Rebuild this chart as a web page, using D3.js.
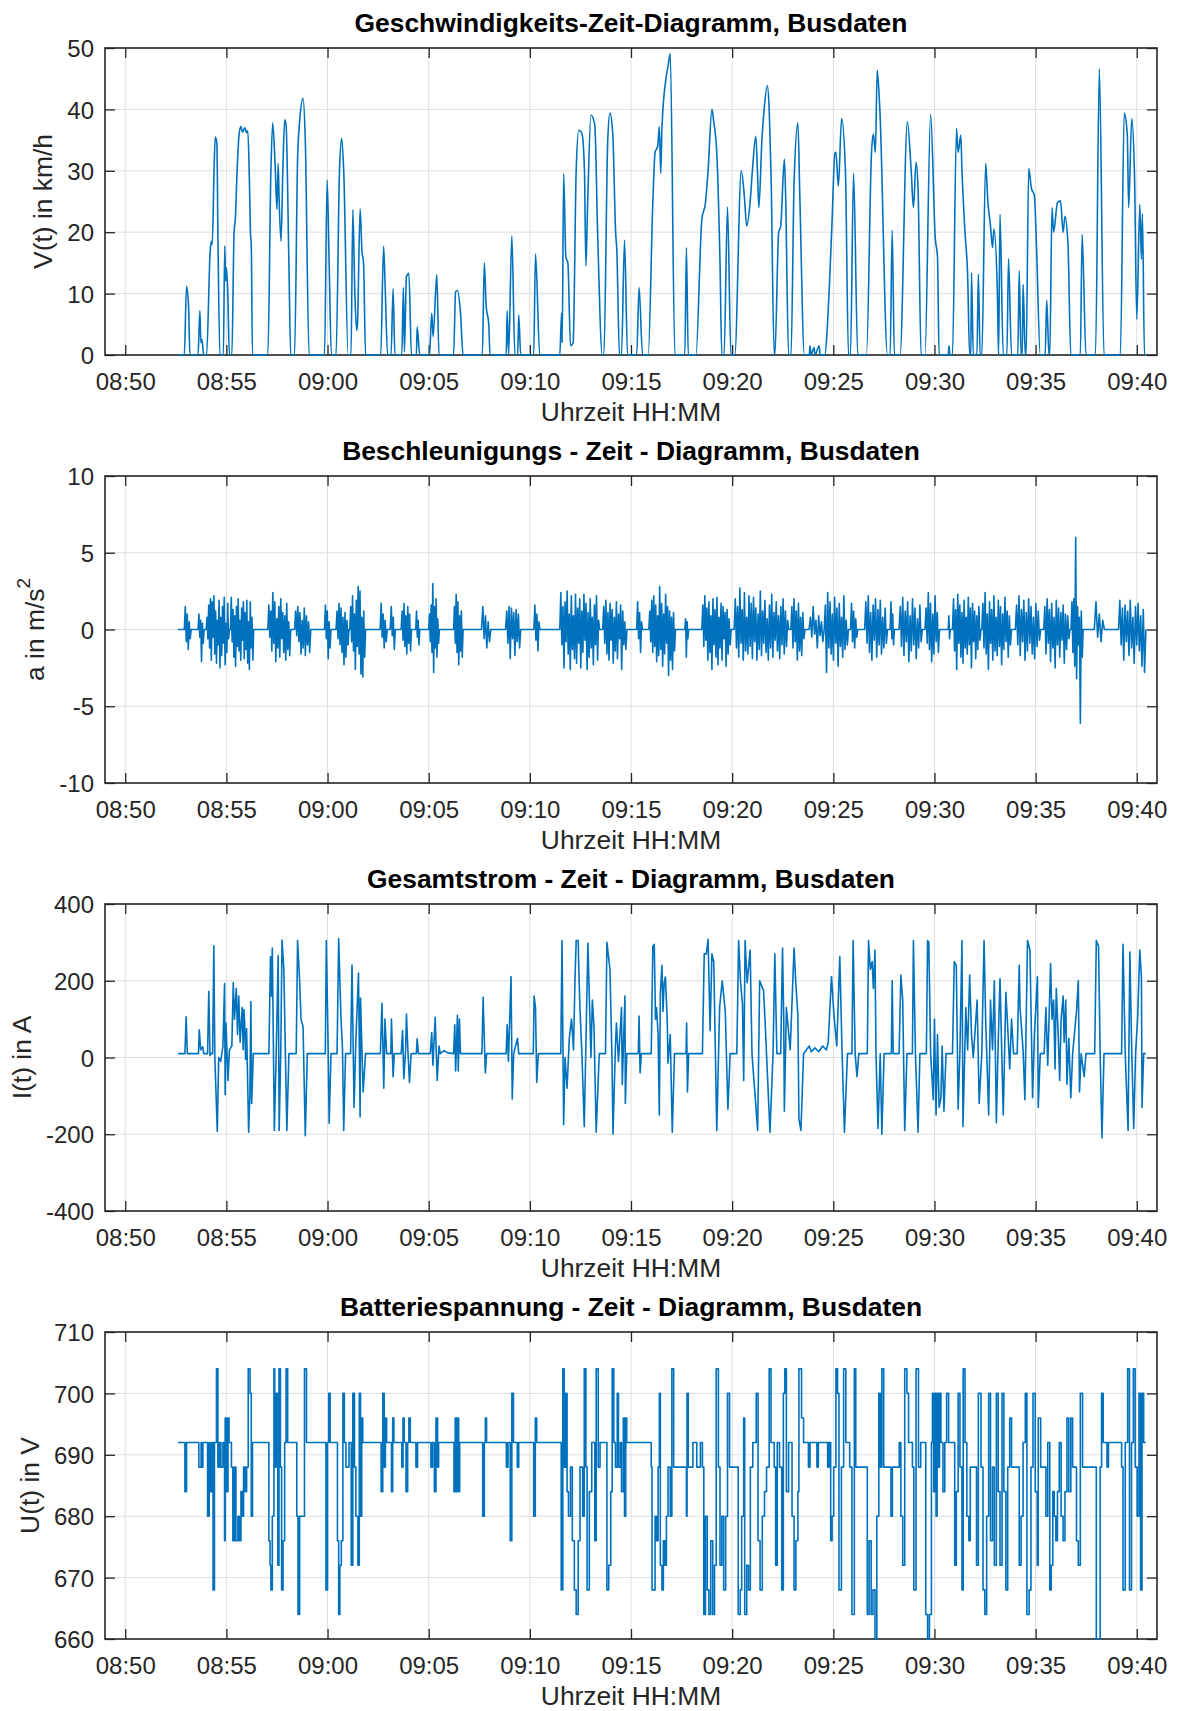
<!DOCTYPE html>
<html>
<head>
<meta charset="utf-8">
<script src="https://cdn.jsdelivr.net/npm/d3@7"></script>
<style>
  html, body { margin: 0; padding: 0; background: #ffffff; }
  svg { display: block; font-family: "Liberation Sans", Arial, Helvetica, sans-serif; }
</style>
</head>
<body>
<svg id="chart" width="1178" height="1711"></svg>
<script>
// ---------------------------------------------------------------
// Bus log, 08:49 - 09:41. Every sample time is given in minutes
// after 08:50:00.
// ---------------------------------------------------------------
const clockOrigin = [8, 50];
const timeDomainMin = [-1, 51];
const timeTickMin = [0, 5, 10, 15, 20, 25, 30, 35, 40, 45, 50];

// Speed V(t) in km/h : [minute, value]
const speedSamples = [
  [2.61,0],[2.92,0],[3.03,11.2],[3.13,8],[3.20,0],[3.60,0],[3.69,7.2],[3.74,2],[3.79,2.5],[3.88,0],
  [4.02,0],[4.20,17],[4.26,18.5],[4.30,18],[4.39,30],[4.45,35.5],[4.53,34.5],[4.58,20],[4.68,0],
  [4.85,0],[4.92,17.8],[4.96,12],[5.00,14.2],[5.06,11],[5.15,0],[5.27,0],[5.38,20],[5.44,22],
  [5.53,30],[5.63,36],[5.72,37.2],[5.80,36.3],[5.91,37],[6.00,36.2],[6.06,36.5],[6.14,28],[6.19,20],
  [6.23,18],[6.29,0],[7.05,0],[7.20,30],[7.29,37.8],[7.42,30],[7.50,23.7],[7.56,31.2],[7.61,25],
  [7.70,18.5],[7.79,30],[7.88,38.3],[7.95,37.5],[8.09,15],[8.18,0],[8.37,0],[8.52,32],[8.62,38],
  [8.79,41.8],[8.90,35],[9.09,0],[9.85,0],[9.98,28.5],[10.08,15],[10.19,0],[10.42,0],[10.59,30],
  [10.70,35.3],[10.80,30],[11.02,0],[11.16,0],[11.25,23.7],[11.35,10],[11.44,4],[11.48,5],[11.61,23.8],
  [11.70,17],[11.78,15],[11.88,0],[12.63,0],[12.77,17.7],[12.84,12],[12.97,0],[13.14,0],[13.24,10.8],
  [13.33,0],[13.67,0],[13.75,11],[13.80,0.5],[13.90,12.8],[14.02,13.3],[14.15,0],[14.39,0],[14.43,4.6],
  [14.56,0],[15.04,0],[15.15,6.8],[15.22,3],[15.40,13.1],[15.51,0],[16.23,0],[16.33,10.3],[16.42,10.5],
  [16.57,7],[16.70,0],[17.65,0],[17.75,15],[17.84,8],[17.97,5],[18.03,0],[18.83,0],[18.88,7.2],
  [18.95,0],[19.11,19.4],[19.26,0],[19.40,0],[19.45,6.5],[19.55,0],[20.19,0],[20.28,16.5],[20.49,0],
  [21.48,0],[21.57,6.8],[21.60,2],[21.67,29.5],[21.78,16],[21.88,15],[22.01,1.5],[22.14,2],[22.29,30],
  [22.42,36.6],[22.58,36],[22.70,30],[22.77,14.5],[22.86,25],[23.02,39.1],[23.21,37.5],[23.35,20],
  [23.58,0],[23.66,0],[23.85,35],[23.96,39.4],[24.10,36],[24.24,20],[24.30,17],[24.43,0],[24.53,0],
  [24.68,18.7],[24.83,0],[25.28,0],[25.40,11],[25.57,0],[25.85,0],[26.08,25],[26.19,33],[26.32,34],
  [26.40,37.2],[26.47,29.6],[26.53,37],[26.74,45.3],[26.83,47],[26.94,49.1],[27.17,0],[27.66,0],
  [27.74,17.5],[27.83,0],[28.21,0],[28.50,22],[28.68,24.8],[28.81,30],[29.00,40],[29.09,38],
  [29.24,32.9],[29.40,15],[29.49,0],[29.60,0],[29.77,24.1],[29.94,0],[30.13,0],[30.45,30],[30.60,26],
  [30.72,21],[30.89,25],[31.00,30],[31.17,35.6],[31.25,30],[31.32,24],[31.47,35],[31.58,40],
  [31.74,43.9],[31.83,40],[31.92,30],[32.08,0],[32.11,0],[32.30,20],[32.40,21],[32.58,31.9],
  [32.64,26.4],[32.79,0],[32.91,0],[33.06,28],[33.25,37.8],[33.34,26.5],[33.57,0],[33.81,0],
  [33.85,1.5],[33.90,0],[34.05,1.2],[34.10,0],[34.30,1.5],[34.35,0],[34.57,0],[34.79,10],[34.94,22],
  [35.08,32.9],[35.13,33],[35.25,27.5],[35.41,38.5],[35.60,30],[35.75,0],[35.85,0],[36.00,29.6],
  [36.21,0],[36.64,0],[36.89,33.1],[36.98,36],[37.08,33],[37.17,46.4],[37.30,40],[37.68,0],[37.81,0],
  [37.91,20.3],[38.02,0],[38.30,0],[38.66,38],[38.85,30],[38.96,24],[39.09,31.4],[39.19,27],[39.34,0],
  [39.53,0],[39.81,39.2],[40.04,19],[40.15,16],[40.23,0],[40.68,0],[40.72,1.5],[40.76,0],[40.89,0],
  [41.09,36.9],[41.17,33],[41.30,35.8],[41.36,30],[41.51,20],[41.64,13],[41.74,0],[41.80,0],
  [41.83,13.4],[41.92,0],[42.10,0],[42.17,13.2],[42.26,0],[42.34,0],[42.53,31.2],[42.64,25],
  [42.77,21],[42.87,17.5],[42.94,20.5],[43.11,10],[43.17,0],[43.24,22.9],[43.40,0],[43.58,0],
  [43.66,15.7],[43.81,0],[44.12,0],[44.19,13.7],[44.28,0],[44.34,0],[44.38,11.5],[44.49,0],[44.53,0],
  [44.66,30.4],[44.79,27.2],[44.94,26],[45.04,18],[45.23,0],[45.47,0],[45.55,8.9],[45.66,0],[45.70,0],
  [45.81,24],[45.89,20],[46.08,24.8],[46.23,25.1],[46.36,20],[46.45,22.6],[46.60,18],[46.74,0],
  [47.21,0],[47.30,19.6],[47.49,0],[47.96,0],[48.15,46.6],[48.38,0],[49.19,0],[49.38,39.4],
  [49.53,36],[49.60,24],[49.75,38.5],[49.89,29],[50.00,5.8],[50.15,24.5],[50.23,15.6],[50.28,23],
  [50.38,0],[50.45,0]
];

// Acceleration a(t) in m/s^2 : driving phases [from, to, readings spread evenly in between]
const accelStart = 2.61;
const accelEnd = 50.45;
const accelBursts = [
  [2.92, 3.26, [0,1.5,-0.8,1.0,-1.3,0.5,-0.6,0]],
  [3.60, 3.90, [0,1.0,-0.5,0.6,-2.1,0.4,-0.9,0]],
  [4.00, 5.15, [0,0.8,-0.6,1.6,-1.2,2.0,-2.0,1.8,-0.5,2.2,-1.6,1.2,-2.2,0.6,-1.0,1.9,-2.5,0.8,-1.7,1.5,-0.9,2.1,-2.3,0.4,-1.5,1.7,-0.6,0]],
  [5.20, 6.35, [0,2.1,-0.8,1.3,-1.8,0.9,-2.4,1.5,-1.1,2.0,-1.4,0.6,-2.0,1.4,-0.7,1.8,-1.9,1.1,-1.3,1.9,-2.2,0.5,-2.6,1.8,-1.2,0.8,-2.0,0]],
  [7.05, 8.18, [0,1.6,-0.5,1.2,-1.4,2.4,-0.9,1.8,-2.1,0.7,-1.2,1.5,-1.8,2.0,-0.6,1.1,-1.5,0.9,-2.0,1.7,-1.3,0.5,-1.7,0]],
  [8.37, 9.17, [0,1.2,-0.4,1.5,-0.8,1.1,-1.6,0.6,-1.2,1.4,-1.7,0.9,-1.0,0.5,-1.5,0]],
  [9.85, 10.17, [0,1.6,-0.6,1.2,-1.9,0.5,-1.2,0]],
  [10.42, 11.06, [0,1.2,-0.6,1.7,-1.0,1.4,-1.5,0.8,-2.3,1.1,-1.8,0.6,-1.0,0]],
  [11.10, 11.88, [0,1.5,-0.8,2.2,-1.4,1.0,-2.6,1.9,-1.1,2.8,-1.6,2.5,-2.9,0.8,-3.1,1.2,-1.8,0]],
  [12.60, 12.95, [0,1.7,-0.5,1.0,-1.2,0.6,-0.8,0]],
  [13.10, 13.35, [0,1.5,-0.4,0.8,-1.3,0]],
  [13.64, 14.15, [0,1.2,-0.7,1.7,-1.1,0.9,-1.6,1.5,-0.9,1.0,-1.4,0]],
  [14.36, 14.56, [0,1.2,-0.5,0.6,-1.0,0]],
  [15.00, 15.53, [0,1.0,-0.8,1.6,-1.5,3.0,-2.8,1.5,-1.2,2.0,-1.8,0.7,-0.9,0]],
  [16.23, 16.70, [0,1.5,-0.9,2.3,-1.5,1.8,-2.3,0.9,-1.4,1.2,-1.8,0]],
  [17.61, 18.07, [0,1.5,-0.6,0.9,-1.2,0.5,-0.8,0]],
  [18.80, 19.55, [0,1.2,-0.9,1.5,-1.9,1.4,-0.6,1.1,-1.7,1.3,-0.8,1.0,-1.2,0]],
  [20.20, 20.50, [0,1.6,-0.7,1.0,-1.4,0.5,0]],
  [21.48, 23.45, [0,2.4,-1.0,1.5,-2.5,1.8,-0.8,2.5,-1.6,1.0,-2.6,2.2,-1.3,0.9,-1.9,2.3,-2.2,1.4,-0.9,2.0,-2.5,1.2,-1.5,2.3,-0.7,1.7,-2.6,1.1,-1.8,2.0,-1.2,0.8,-2.3,1.6,-1.0,2.2,-2.0,0.6,0]],
  [23.60, 24.80, [0,1.5,-0.9,1.9,-1.6,1.1,-2.0,1.7,-0.7,1.3,-2.2,0.8,-1.4,1.8,-1.9,1.0,-0.6,1.6,-2.6,1.2,-1.0,0.5,-1.3,0]],
  [25.28, 25.57, [0,1.8,-0.6,1.1,-1.5,0.5,0]],
  [25.88, 27.20, [0,1.2,-0.8,1.9,-1.5,2.2,-1.1,1.6,-2.1,0.9,-1.7,2.8,-1.3,1.7,-2.4,1.0,-1.6,2.3,-0.9,1.5,-3.0,1.2,-2.0,0.8,-2.6,1.1,-1.4,0]],
  [27.66, 27.85, [0,0.7,-1.8,0.5,-0.6,0]],
  [28.50, 29.95, [0,1.6,-1.1,2.2,-0.7,1.4,-2.0,1.8,-1.5,0.9,-2.6,2.0,-1.0,1.3,-1.8,2.1,-2.3,0.8,-1.2,1.7,-2.0,1.5,-0.6,1.1,-2.4,1.3,-1.6,0.7,-1.0,0]],
  [30.10, 32.80, [0,2.0,-1.2,1.5,-1.8,2.7,-0.9,1.3,-2.0,2.4,-1.4,0.8,-1.6,2.2,-1.1,1.7,-1.9,2.1,-0.8,1.4,-2.0,1.0,-1.3,2.5,-1.7,1.2,-0.9,1.9,-1.5,0.7,-2.0,1.6,-1.2,2.3,-1.8,1.1,-0.7,1.8,-1.4,0.9,-1.9,1.5,-1.0,2.0,-1.6,1.2,-1.1,0.6,0]],
  [32.90, 33.60, [0,1.5,-1.2,2.0,-0.8,1.2,-2.0,1.7,-1.4,0.8,-1.7,1.1,-0.6,0]],
  [33.80, 34.55, [0,0.8,-0.5,1.5,-0.3,0.6,-1.2,0.9,-0.4,0.5,-0.8,0]],
  [34.55, 35.75, [0,1.6,-2.8,2.4,-1.2,1.8,-1.6,1.0,-2.0,2.1,-0.9,1.4,-2.4,1.7,-1.1,0.8,-1.8,2.2,-1.3,0.6,-1.0,0]],
  [35.85, 36.21, [0,1.7,-0.8,1.2,-1.2,0.7,-0.5,0]],
  [36.55, 37.68, [0,1.8,-0.9,2.2,-1.5,1.1,-2.0,1.6,-0.7,2.0,-1.8,1.3,-1.0,1.9,-1.6,0.8,-1.2,1.4,-0.9,0]],
  [37.81, 38.02, [0,1.8,-0.6,1.0,-1.0,0]],
  [38.25, 39.40, [0,1.5,-1.1,2.1,-1.7,1.2,-0.8,1.8,-2.1,0.9,-1.4,2.0,-1.0,1.4,-1.9,0.7,-1.2,1.6,-0.8,0]],
  [39.53, 40.25, [0,1.4,-0.9,2.4,-1.3,1.7,-2.1,1.0,-1.6,2.2,-0.8,1.1,-1.5,0]],
  [40.68, 40.78, [0,0.9,-0.6,0]],
  [40.89, 42.30, [0,2.0,-1.4,1.3,-2.6,2.3,-0.9,1.6,-1.8,1.1,-2.2,1.9,-1.2,0.8,-1.6,2.1,-1.0,1.4,-2.5,1.7,-0.8,1.2,-1.9,0.9,-1.3,1.5,-0.7,0]],
  [42.34, 43.81, [0,1.7,-1.2,2.4,-1.6,1.0,-2.6,1.8,-0.9,1.3,-2.0,2.2,-1.4,0.8,-1.7,1.9,-1.1,1.5,-2.3,1.0,-1.3,2.1,-0.8,1.2,-1.8,0.9,-1.0,0]],
  [44.00, 45.25, [0,1.6,-1.0,2.2,-1.7,1.3,-0.8,1.9,-2.0,1.1,-1.4,2.0,-0.9,1.5,-1.6,0.8,-1.9,1.7,-1.1,1.2,-0.7,0]],
  [45.40, 46.70, [0,1.5,-1.6,2.0,-0.9,1.3,-2.1,1.7,-1.2,0.8,-2.5,1.9,-1.0,1.4,-1.8,1.1,-0.7,1.6,-2.2,1.0,-1.3,0.9,-0.6,0]],
  [46.75, 47.35, [0,1.8,-1.5,2.0,-2.4,6.0,-3.2,1.5,-1.0,0.8,-6.1,1.2,-1.8,0]],
  [47.90, 48.40, [0,1.8,-0.5,1.0,-0.8,0.6,0]],
  [49.10, 50.45, [0,1.9,-1.0,1.4,-2.0,1.6,-0.8,1.2,-1.7,1.9,-1.2,0.8,-2.2,1.5,-1.0,1.7,-1.4,0.9,-2.4,1.3,-2.8,0]]
];

// Total current I(t) in A : [minute, value]
const currentSamples = [
  [2.61,10],[2.95,10],[3.01,106],[3.07,10],[3.62,10],[3.66,72],[3.73,20],[3.83,28],[3.88,10],
  [4.07,10],[4.13,172],[4.19,5],[4.24,10],[4.32,10],[4.38,291],[4.43,0],[4.55,-193],[4.62,0],
  [4.72,-10],[4.83,30],[4.91,193],[4.94,-97],[4.98,90],[5.08,-60],[5.15,20],[5.27,30],[5.34,195],
  [5.40,100],[5.49,180],[5.55,60],[5.61,160],[5.68,40],[5.78,130],[5.83,20],[5.87,125],[5.91,80],
  [5.95,-5],[6.00,75],[6.10,-195],[6.16,-100],[6.21,146],[6.25,-120],[6.33,10],[7.10,10],[7.18,263],
  [7.23,160],[7.27,285],[7.37,-190],[7.46,5],[7.56,265],[7.61,-190],[7.69,20],[7.75,306],[7.84,230],
  [7.92,0],[7.99,-190],[8.09,10],[8.45,10],[8.52,305],[8.62,200],[8.69,100],[8.79,80],[8.90,-204],
  [9.00,10],[9.89,10],[9.94,305],[10.02,60],[10.08,-171],[10.17,10],[10.47,10],[10.55,310],
  [10.61,200],[10.66,110],[10.74,20],[10.80,-190],[10.89,10],[11.14,10],[11.21,241],[11.31,-130],
  [11.40,45],[11.53,220],[11.61,-155],[11.63,155],[11.70,20],[11.76,-90],[11.88,10],[12.61,10],
  [12.69,141],[12.78,-80],[12.84,100],[12.92,10],[13.13,10],[13.16,100],[13.24,-50],[13.30,10],
  [13.64,10],[13.71,70],[13.77,-55],[13.86,20],[13.90,113],[13.98,10],[14.05,-65],[14.13,10],
  [14.39,10],[14.43,49],[14.49,10],[15.08,10],[15.15,65],[15.21,-20],[15.32,105],[15.42,-60],
  [15.51,30],[15.57,10],[15.76,18],[15.95,12],[16.23,10],[16.29,85],[16.33,-35],[16.42,110],
  [16.46,-35],[16.52,100],[16.57,10],[17.63,10],[17.69,157],[17.77,10],[17.80,-40],[17.86,10],
  [18.83,10],[18.88,85],[18.94,-10],[19.07,211],[19.13,-108],[19.20,10],[19.39,50],[19.45,10],
  [20.17,10],[20.21,160],[20.28,130],[20.34,-65],[20.42,10],[21.53,10],[21.59,305],[21.67,-175],
  [21.74,0],[21.84,-80],[21.95,50],[22.06,100],[22.16,20],[22.23,200],[22.29,305],[22.39,305],
  [22.42,230],[22.48,125],[22.58,0],[22.69,-180],[22.87,298],[23.02,0],[23.09,150],[23.17,80],
  [23.28,-195],[23.43,10],[23.74,10],[23.81,300],[23.96,230],[24.06,0],[24.11,-200],[24.23,30],
  [24.28,90],[24.38,-10],[24.53,130],[24.57,-70],[24.70,160],[24.72,-120],[24.79,10],[25.36,10],
  [25.40,108],[25.45,-40],[25.51,10],[26.00,10],[26.08,290],[26.15,295],[26.21,100],[26.26,130],
  [26.34,60],[26.40,-150],[26.45,167],[26.53,240],[26.58,120],[26.64,195],[26.70,210],[26.79,100],
  [26.83,-15],[26.94,60],[27.04,-195],[27.15,10],[27.72,10],[27.75,90],[27.79,-90],[27.85,10],
  [28.53,10],[28.62,270],[28.72,270],[28.81,308],[28.91,70],[29.00,270],[29.09,250],[29.24,-190],
  [29.38,130],[29.51,200],[29.66,120],[29.79,-135],[29.90,10],[30.23,10],[30.32,305],[30.41,200],
  [30.51,140],[30.57,-60],[30.64,305],[30.74,195],[30.89,280],[30.98,10],[31.26,-190],[31.36,200],
  [31.55,175],[31.64,80],[31.87,-195],[32.02,10],[32.11,270],[32.21,10],[32.40,10],[32.49,285],
  [32.55,100],[32.58,-140],[32.68,130],[32.87,20],[33.06,285],[33.15,190],[33.25,110],[33.30,-160],
  [33.40,-190],[33.53,10],[33.81,30],[33.91,15],[34.09,25],[34.28,15],[34.47,30],[34.66,20],
  [34.75,40],[34.91,211],[35.04,105],[35.17,30],[35.32,263],[35.43,20],[35.55,-195],[35.70,10],
  [35.92,10],[35.98,305],[36.08,10],[36.17,-50],[36.26,10],[36.68,10],[36.74,305],[36.83,230],
  [36.92,250],[36.98,180],[37.06,280],[37.11,10],[37.21,-185],[37.32,10],[37.40,-200],[37.51,10],
  [37.87,10],[37.91,200],[37.96,10],[38.25,10],[38.34,215],[38.43,150],[38.53,-190],[38.64,10],
  [38.91,10],[38.96,305],[39.06,10],[39.19,-195],[39.28,10],[39.60,10],[39.66,305],[39.72,300],
  [39.81,10],[39.94,-110],[40.00,100],[40.08,-150],[40.15,60],[40.23,-130],[40.32,-105],[40.38,30],
  [40.47,-140],[40.57,10],[40.89,10],[40.98,250],[41.08,240],[41.17,-135],[41.26,20],[41.36,305],
  [41.41,-180],[41.55,130],[41.64,20],[41.74,215],[41.83,60],[41.92,0],[42.11,150],[42.21,-120],
  [42.34,10],[42.45,305],[42.53,100],[42.68,-150],[42.77,150],[42.87,20],[42.96,200],[43.06,-170],
  [43.15,40],[43.24,205],[43.40,-150],[43.53,170],[43.62,80],[43.72,-30],[43.81,100],[43.91,10],
  [44.09,10],[44.19,240],[44.23,130],[44.38,20],[44.47,-110],[44.60,305],[44.72,280],[44.85,-105],
  [44.94,60],[45.09,210],[45.13,-130],[45.23,10],[45.42,10],[45.51,130],[45.60,-20],[45.74,245],
  [45.81,100],[45.89,150],[45.96,-30],[46.02,180],[46.11,70],[46.19,-60],[46.26,100],[46.36,160],
  [46.41,40],[46.49,150],[46.55,-70],[46.64,50],[46.74,-105],[46.83,10],[47.02,120],[47.11,200],
  [47.17,-90],[47.25,10],[47.40,-50],[47.49,10],[47.92,10],[48.00,305],[48.11,290],[48.19,10],
  [48.28,-210],[48.38,10],[49.25,10],[49.32,295],[49.43,10],[49.57,-190],[49.66,275],[49.75,20],
  [49.85,-185],[49.94,10],[50.04,100],[50.15,280],[50.23,210],[50.26,-130],[50.34,10],[50.45,10]
];

// Battery voltage U(t) in V : [minute, value], each value held until the next sample
const voltageSamples = [
  [2.61,692],[2.95,684],[3.03,692],[3.64,688],[3.75,692],[3.79,688],[3.84,692],[4.07,680],[4.15,692],
  [4.20,684],[4.28,692],[4.34,668],[4.41,692],[4.51,704],[4.58,688],[4.66,692],[4.73,688],[4.83,692],
  [4.91,676],[4.94,696],[5.02,684],[5.08,696],[5.13,692],[5.25,688],[5.32,676],[5.40,688],[5.47,676],
  [5.57,680],[5.64,676],[5.72,684],[5.80,680],[5.85,688],[5.93,684],[6.00,688],[6.08,704],[6.17,700],
  [6.23,680],[6.29,692],[7.10,676],[7.16,672],[7.20,668],[7.27,680],[7.35,704],[7.39,688],[7.46,700],
  [7.54,672],[7.60,704],[7.67,688],[7.73,668],[7.80,676],[7.88,692],[7.95,704],[8.03,692],[8.48,680],
  [8.54,664],[8.62,680],[8.77,680],[8.86,704],[8.96,692],[9.92,668],[10.00,692],[10.06,700],
  [10.13,692],[10.49,676],[10.55,664],[10.61,672],[10.68,676],[10.76,700],[10.83,692],[10.91,688],
  [11.06,692],[11.17,672],[11.25,700],[11.33,688],[11.40,680],[11.50,672],[11.57,700],[11.63,680],
  [11.69,696],[11.74,692],[12.65,684],[12.73,700],[12.80,688],[12.86,696],[12.92,692],[13.16,684],
  [13.22,696],[13.28,692],[13.67,688],[13.73,696],[13.79,692],[13.88,684],[13.96,692],[14.02,696],
  [14.09,692],[14.37,688],[14.45,692],[15.11,688],[15.19,692],[15.28,684],[15.36,696],[15.44,688],
  [15.49,692],[16.25,684],[16.31,696],[16.36,684],[16.42,696],[16.48,684],[16.53,692],[17.67,680],
  [17.75,692],[17.80,696],[17.86,692],[18.84,688],[18.92,692],[19.03,676],[19.11,700],[19.19,692],
  [19.38,688],[19.45,692],[20.19,680],[20.27,696],[20.34,692],[21.55,668],[21.63,704],[21.70,688],
  [21.78,700],[21.84,684],[21.91,680],[22.01,688],[22.10,676],[22.20,668],[22.29,664],[22.39,676],
  [22.48,688],[22.61,680],[22.69,704],[22.77,688],[22.83,668],[22.94,684],[23.06,692],[23.21,676],
  [23.28,704],[23.38,688],[23.47,692],[23.81,668],[23.90,672],[24.00,684],[24.07,704],[24.15,692],
  [24.23,688],[24.32,700],[24.38,688],[24.47,692],[24.53,684],[24.62,696],[24.68,680],[24.74,696],
  [24.79,692],[26.00,688],[26.04,668],[26.19,680],[26.26,676],[26.34,688],[26.40,700],[26.45,672],
  [26.53,668],[26.60,676],[26.68,672],[26.75,680],[26.83,688],[26.94,680],[27.02,704],[27.11,688],
  [27.74,680],[27.77,700],[27.83,688],[28.06,692],[28.25,688],[28.43,692],[28.53,688],[28.60,664],
  [28.68,680],[28.77,668],[28.85,664],[28.94,676],[29.04,664],[29.13,672],[29.21,704],[29.32,688],
  [29.40,672],[29.49,680],[29.58,668],[29.68,680],[29.77,700],[29.87,688],[30.30,664],[30.40,668],
  [30.47,680],[30.57,696],[30.62,664],[30.72,672],[30.81,668],[30.90,688],[31.02,692],[31.19,700],
  [31.28,676],[31.38,668],[31.49,680],[31.60,684],[31.70,688],[31.83,704],[31.92,692],[32.08,688],
  [32.15,672],[32.23,692],[32.34,688],[32.45,668],[32.53,700],[32.60,704],[32.68,684],[32.79,692],
  [32.96,680],[33.06,668],[33.15,676],[33.25,684],[33.30,704],[33.43,696],[33.53,692],[33.77,688],
  [33.85,692],[34.19,688],[34.26,692],[34.72,688],[34.79,692],[34.87,676],[34.94,680],[35.02,688],
  [35.13,704],[35.21,700],[35.28,668],[35.40,688],[35.51,704],[35.62,692],[35.81,688],[35.92,664],
  [36.04,704],[36.11,688],[36.68,664],[36.77,676],[36.87,664],[36.96,668],[37.06,660],[37.15,680],
  [37.25,700],[37.32,688],[37.40,704],[37.49,688],[37.85,680],[37.92,688],[38.26,692],[38.34,680],
  [38.43,672],[38.53,704],[38.64,700],[38.72,692],[38.91,688],[38.98,668],[39.09,704],[39.21,688],
  [39.32,692],[39.57,664],[39.66,660],[39.75,664],[39.85,692],[39.90,700],[39.96,684],[40.02,700],
  [40.08,680],[40.13,700],[40.19,688],[40.25,700],[40.32,692],[40.42,684],[40.51,692],[40.60,700],
  [40.70,692],[41.00,672],[41.08,684],[41.17,700],[41.26,688],[41.36,668],[41.42,704],[41.51,692],
  [41.60,680],[41.70,676],[41.77,688],[42.08,672],[42.17,700],[42.30,688],[42.40,668],[42.49,664],
  [42.58,680],[42.68,700],[42.77,676],[42.87,688],[42.96,672],[43.06,700],[43.15,684],[43.24,672],
  [43.34,700],[43.43,684],[43.53,668],[43.62,688],[43.72,696],[43.81,688],[44.19,672],[44.28,680],
  [44.38,692],[44.49,700],[44.57,664],[44.68,668],[44.77,688],[44.87,700],[44.98,684],[45.08,672],
  [45.13,696],[45.25,688],[45.51,680],[45.60,692],[45.70,668],[45.77,672],[45.85,684],[45.92,680],
  [46.00,676],[46.08,684],[46.17,692],[46.26,680],[46.36,676],[46.45,684],[46.55,696],[46.64,684],
  [46.74,696],[46.83,688],[47.02,676],[47.11,672],[47.21,700],[47.32,688],[48.00,660],[48.19,688],
  [48.26,700],[48.34,692],[48.53,688],[48.60,692],[49.25,688],[49.32,668],[49.43,692],[49.55,704],
  [49.64,668],[49.74,692],[49.83,704],[49.92,688],[50.02,680],[50.11,700],[50.19,668],[50.26,700],
  [50.34,692],[50.45,692]
];

// Axis ticks
const speedTicks = [0, 10, 20, 30, 40, 50];
const accelTicks = [-10, -5, 0, 5, 10];
const currentTicks = [-400, -200, 0, 200, 400];
const voltageTicks = [660, 670, 680, 690, 700, 710];

// ---------------------------------------------------------------
const T0 = new Date(2020, 0, 1, clockOrigin[0], clockOrigin[1], 0);
const toDate = m => new Date(T0.getTime() + m * 60000);

// expand the acceleration phases into a single sample list
const accelSamples = [[accelStart, 0]];
accelBursts.forEach(([a, b, vals]) => {
  const n = vals.length - 1;
  vals.forEach((v, i) => accelSamples.push([a + (b - a) * i / n, v]));
});
accelSamples.push([accelEnd, 0]);

const panels = [
  { title: "Geschwindigkeits-Zeit-Diagramm, Busdaten", ylabel: ["V(t) in km/h"], domain: [0, 50],
    ticks: speedTicks, data: speedSamples, curve: d3.curveMonotoneX },
  { title: "Beschleunigungs - Zeit - Diagramm, Busdaten", ylabel: ["a in m/s", "2"], domain: [-10, 10],
    ticks: accelTicks, data: accelSamples, curve: d3.curveLinear },
  { title: "Gesamtstrom - Zeit - Diagramm, Busdaten", ylabel: ["I(t) in A"], domain: [-400, 400],
    ticks: currentTicks, data: currentSamples, curve: d3.curveLinear },
  { title: "Batteriespannung - Zeit - Diagramm, Busdaten", ylabel: ["U(t) in V"], domain: [660, 710],
    ticks: voltageTicks, data: voltageSamples, curve: d3.curveStepAfter }
];

const svg = d3.select("#chart");
const left = 105, right = 1157, plotH = 307;
const tops = [48, 476, 904, 1332];
const axisColor = "#262626", gridColor = "#dfdfdf", lineColor = "#0072BD";
const tickFont = 24, labelFont = 26.4;
const plainNumber = d => String(d); // hyphen-minus, as in the axis labels

const x = d3.scaleTime().domain(timeDomainMin.map(toDate)).range([left, right]);
const xTickDates = timeTickMin.map(toDate);

panels.forEach((p, i) => {
  const top = tops[i], bottom = top + plotH;
  const y = d3.scaleLinear().domain(p.domain).range([bottom, top]);
  const g = svg.append("g");

  // grid
  g.append("g").selectAll("line").data(xTickDates).join("line")
    .attr("x1", d => x(d)).attr("x2", d => x(d)).attr("y1", top).attr("y2", bottom)
    .attr("stroke", gridColor).attr("stroke-width", 1);
  g.append("g").selectAll("line").data(p.ticks).join("line")
    .attr("x1", left).attr("x2", right).attr("y1", d => y(d)).attr("y2", d => y(d))
    .attr("stroke", gridColor).attr("stroke-width", 1);

  // axes with inward ticks
  const styleAxis = sel => {
    sel.select(".domain").remove();
    sel.selectAll(".tick line").attr("stroke", axisColor).attr("stroke-width", 1.3);
    sel.selectAll(".tick text").attr("fill", axisColor).attr("font-size", tickFont)
      .attr("font-family", "'Liberation Sans', Arial, Helvetica, sans-serif");
  };
  g.append("g").attr("transform", `translate(0,${bottom})`)
    .call(d3.axisBottom(x).tickValues(xTickDates).tickFormat(d3.timeFormat("%H:%M"))
      .tickSize(-10).tickPadding(18)).call(styleAxis);
  g.append("g").attr("transform", `translate(0,${top})`)
    .call(d3.axisTop(x).tickValues(xTickDates).tickFormat("").tickSize(-10)).call(styleAxis);
  const yl = g.append("g").attr("transform", `translate(${left},0)`)
    .call(d3.axisLeft(y).tickValues(p.ticks).tickFormat(plainNumber).tickSize(-10).tickPadding(11))
    .call(styleAxis);
  yl.selectAll(".tick text").attr("dy", "0.36em");
  g.append("g").attr("transform", `translate(${right},0)`)
    .call(d3.axisRight(y).tickValues(p.ticks).tickFormat("").tickSize(-10)).call(styleAxis);

  // box
  g.append("rect").attr("x", left).attr("y", top).attr("width", right - left).attr("height", plotH)
    .attr("fill", "none").attr("stroke", axisColor).attr("stroke-width", 1.6);

  // title
  g.append("text").attr("x", (left + right) / 2).attr("y", top - 16)
    .attr("text-anchor", "middle").attr("font-size", labelFont).attr("font-weight", "bold")
    .attr("fill", "#000").text(p.title);

  // x label
  g.append("text").attr("x", (left + right) / 2).attr("y", bottom + 66)
    .attr("text-anchor", "middle").attr("font-size", labelFont).attr("fill", axisColor)
    .text("Uhrzeit HH:MM");

  // y label, placed just left of the widest tick label
  let tickLeft = left;
  yl.selectAll(".tick text").each(function () {
    const b = this.getBBox();
    tickLeft = Math.min(tickLeft, left + b.x);
  });
  const lx = tickLeft - 15, ly = (top + bottom) / 2;
  const lab = g.append("text").attr("transform", `translate(${lx},${ly}) rotate(-90)`)
    .attr("text-anchor", "middle").attr("font-size", labelFont).attr("fill", axisColor);
  lab.append("tspan").text(p.ylabel[0]);
  if (p.ylabel[1]) {
    lab.append("tspan").attr("font-size", labelFont * 0.72).attr("dy", "-0.75em").text(p.ylabel[1]);
  }

  // data line
  const line = d3.line().x(d => x(toDate(d[0]))).y(d => y(d[1])).curve(p.curve);
  g.append("path").datum(p.data).attr("d", line)
    .attr("fill", "none").attr("stroke", lineColor).attr("stroke-width", 1.6)
    .attr("stroke-linejoin", "round");
});
</script>
</body>
</html>
